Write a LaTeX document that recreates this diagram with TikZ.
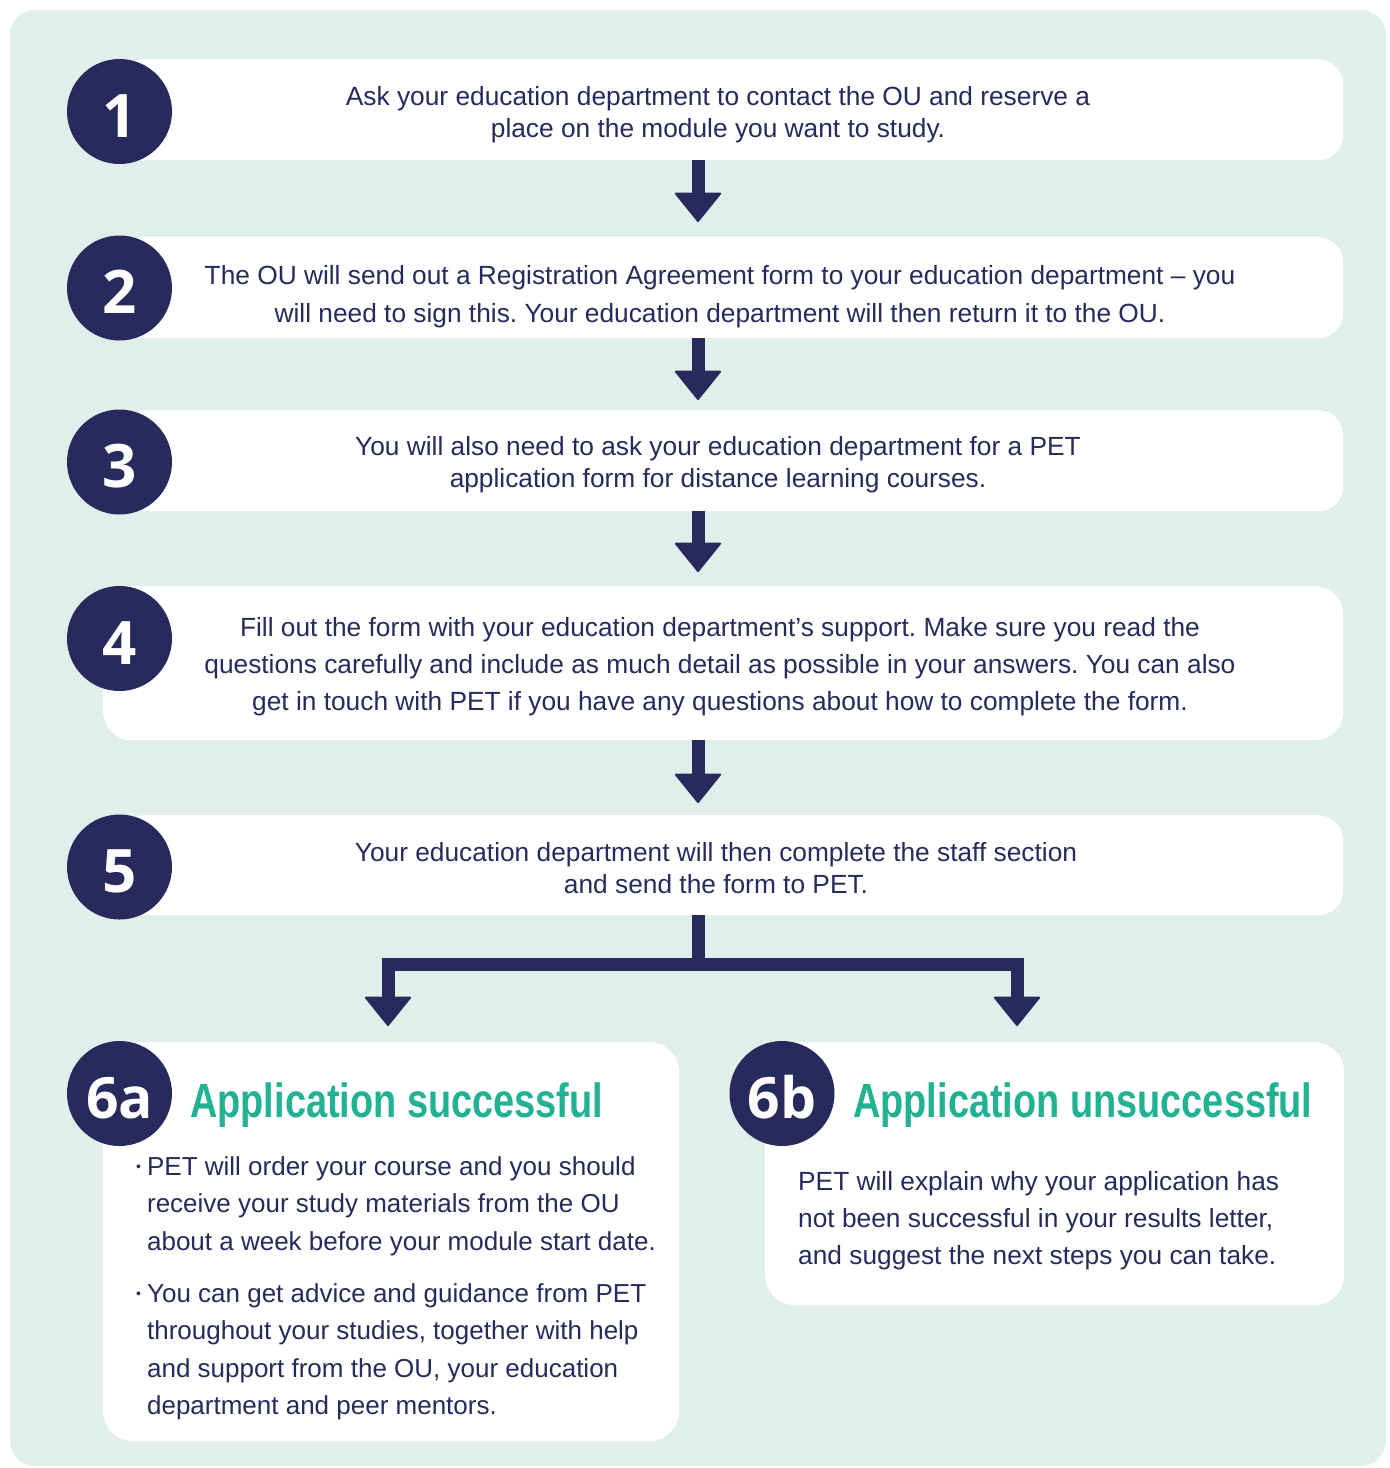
\documentclass[tikz,border=0pt]{standalone}
\usepackage{fontspec}
\setmainfont{Liberation Sans}
\newfontfamily\numfont{Open Sans}
\newfontfamily\headfont{Liberation Sans}[FakeStretch=0.79]
\usetikzlibrary{arrows.meta}
\definecolor{navy}{RGB}{38,42,92}
\definecolor{tealh}{RGB}{32,178,146}
\definecolor{panel}{RGB}{224,239,235}
\frenchspacing
\tikzset{
  stepbox/.style={fill=white, draw=none, rounded corners=25pt, inner sep=0pt, anchor=north west},
  numcirc/.style={circle, fill=navy, minimum size=105pt, inner sep=0pt, text=white,
    text height=51pt, text depth=0pt, font=\numfont\bfseries\fontsize{60}{60}\selectfont},
  bodytext/.style={text=navy, inner sep=0pt},
  headtext/.style={text=tealh, inner sep=0pt, anchor=base west, font=\headfont\bfseries\fontsize{48}{48}\selectfont},
  arr/.style={draw=navy, line width=13pt, -{Triangle[width=48pt,length=30pt,line width=2pt,round]}},
  bar/.style={draw=navy, line width=13pt}
}
\newcommand{\bul}{\raisebox{4pt}{\fontsize{14}{14}\selectfont\textbullet}}
\begin{document}
\begin{tikzpicture}[x=1pt,y=-1pt]
\useasboundingbox (0,0) rectangle (1390,1468);
\fill[white] (0,0) rectangle (1390,1468);
\fill[panel, rounded corners=25pt] (10,10) rectangle (1386,1466);

% boxes
\node[stepbox, minimum width=1224pt, minimum height=101pt] (b1) at (119,59) {};
\node[stepbox, minimum width=1224pt, minimum height=101pt] (b2) at (119,237) {};
\node[stepbox, minimum width=1224pt, minimum height=101pt] (b3) at (119,410) {};
\node[stepbox, rounded corners=28pt, minimum width=1240pt, minimum height=154pt] (b4) at (103,586) {};
\node[stepbox, minimum width=1224pt, minimum height=100pt] (b5) at (119,815) {};
\node[stepbox, rounded corners=30pt, minimum width=576pt, minimum height=399pt] (b6a) at (103,1042) {};
\node[stepbox, rounded corners=30pt, minimum width=579pt, minimum height=263pt] (b6b) at (765,1042) {};

% circles
\node[numcirc] (c1) at (119.5,111.5) {1};
\node[numcirc] (c2) at (119.5,288) {2};
\node[numcirc] (c3) at (119.5,462) {3};
\node[numcirc] (c4) at (119.5,638.5) {4};
\node[numcirc] (c5) at (119.5,867) {5};
\node[numcirc, font=\numfont\bfseries\fontsize{57}{57}\selectfont, text height=49pt] (c6a) at (119.5,1093.5) {6a};
\node[numcirc, font=\numfont\bfseries\fontsize{57}{57}\selectfont, text height=49pt] (c6b) at (782,1093.5) {6b};

% step texts
\node[bodytext, align=center, font=\fontsize{26.3}{32}\selectfont] (t1) at (718,115)
  {Ask your education department to contact the OU and reserve a\\place on the module you want to study.};
\node[bodytext, align=center, font=\fontsize{26.3}{38}\selectfont] (t2) at (720,297)
  {The OU will send out a Registration Agreement form to your education department – you\\will need to sign this. Your education department will then return it to the OU.};
\node[bodytext, align=center, font=\fontsize{26.3}{32}\selectfont] (t3) at (718,465)
  {You will also need to ask your education department for a PET\\application form for distance learning courses.};
\node[bodytext, align=center, font=\fontsize{26.3}{37}\selectfont] (t4) at (720,667)
  {Fill out the form with your education department’s support. Make sure you read the\\questions carefully and include as much detail as possible in your answers. You can also\\get in touch with PET if you have any questions about how to complete the form.};
\node[bodytext, align=center, font=\fontsize{26.3}{32}\selectfont] (t5) at (716,868)
  {Your education department will then complete the staff section\\and send the form to PET.};

% headings
\node[headtext] (h6a) at (190,1117) {Application successful};
\node[headtext] (h6b) at (853,1117) {Application unsuccessful};

% 6a body
\node[bodytext, anchor=base west, font=\fontsize{26}{37.5}\selectfont] (t6a) at (136,1175)
  {\begin{tabular}[t]{@{}l@{\hspace{6pt}}l@{}}
   \bul & PET will order your course and you should\\
        & receive your study materials from the OU\\
        & about a week before your module start date.\\[14.5pt]
   \bul & You can get advice and guidance from PET\\
        & throughout your studies, together with help\\
        & and support from the OU, your education\\
        & department and peer mentors.
   \end{tabular}};

% 6b body
\node[bodytext, anchor=base west, font=\fontsize{26.3}{37}\selectfont] (t6b) at (798,1190)
  {\begin{tabular}[t]{@{}l@{}}
   PET will explain why your application has\\
   not been successful in your results letter,\\
   and suggest the next steps you can take.
   \end{tabular}};

% connectors
\coordinate (ax) at (698,0);
\draw[arr, shorten >=15pt] (b1.south -| ax) -- (b2.north -| ax);
\draw[arr, shorten >=10pt] (b2.south -| ax) -- (b3.north -| ax);
\draw[arr, shorten >=14pt] (b3.south -| ax) -- (b4.north -| ax);
\draw[arr, shorten >=12pt] (b4.south -| ax) -- (b5.north -| ax);

\coordinate (split) at (698,964.5);
\coordinate (d6a) at (388,1026);
\coordinate (d6b) at (1017,1026);
\draw[bar] (b5.south -| split) -- (split);
\draw[arr] (split) -| (d6a);
\draw[arr] (split) -| (d6b);
\end{tikzpicture}
\end{document}
